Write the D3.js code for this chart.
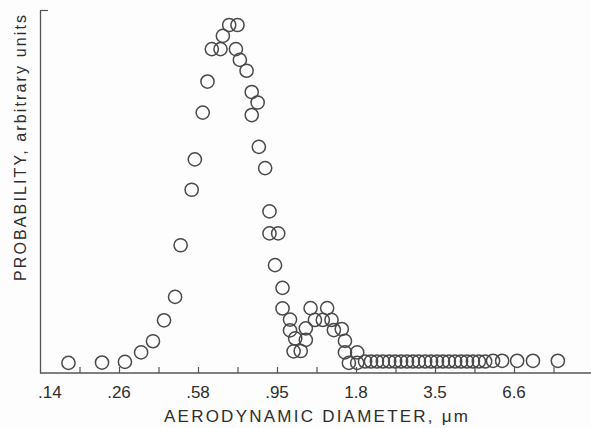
<!DOCTYPE html>
<html>
<head>
<meta charset="utf-8">
<script src="https://cdn.jsdelivr.net/npm/d3@7"></script>
<style>
  html, body { margin: 0; padding: 0; background: #fdfdfd; }
  svg { display: block; }
  text { font-family: "Liberation Sans", Arial, sans-serif; fill: #2e2e2e; }
</style>
</head>
<body>
<div id="chart"></div>
<script>
// x is the impactor channel (equal spacing on the axis), y is probability in arbitrary units
const channel = [
  0.72, 1.57, 2.15, 2.56, 2.86, 3.14, 3.42, 3.56, 3.84, 3.92,
  4.12, 4.24, 4.35, 4.57, 4.63, 4.79, 5.00, 4.96, 5.06, 5.23,
  5.36, 5.51, 5.36, 5.54, 5.70, 5.81, 5.81, 6.03, 5.95, 6.14,
  6.14, 6.33, 6.33, 6.46, 6.42, 6.60, 6.73, 6.73, 6.85, 6.96,
  7.16, 7.27, 7.38, 7.44, 7.64, 7.72, 7.72, 7.82, 8.03, 8.03,
  8.23, 8.38, 8.53, 8.68, 8.84, 8.99, 9.14, 9.29, 9.44, 9.59,
  9.75, 9.90, 10.05, 10.20, 10.35, 10.51, 10.66, 10.81, 10.96, 11.11,
  11.27, 11.47, 11.70, 12.08, 12.48, 13.11
];
const probability = [
  2.9, 3.0, 3.2, 5.9, 9.1, 15.1, 21.8, 36.6, 52.5, 61.2,
  74.6, 83.5, 92.8, 92.8, 96.6, 99.7, 99.7, 92.8, 89.7, 86.6,
  80.5, 77.5, 73.9, 64.8, 58.7, 46.3, 40.0, 40.0, 30.9, 24.4,
  18.5, 15.3, 12.2, 9.9, 6.2, 6.3, 9.5, 12.8, 18.6, 15.2,
  15.2, 18.6, 15.2, 12.3, 12.6, 9.2, 5.9, 2.9, 5.9, 2.9,
  3.3, 3.3, 3.3, 3.3, 3.3, 3.3, 3.3, 3.3, 3.3, 3.3,
  3.3, 3.3, 3.3, 3.3, 3.3, 3.3, 3.3, 3.3, 3.3, 3.3,
  3.3, 3.5, 3.5, 3.5, 3.5, 3.5
];

const tickChannels = d3.range(1, 15);
const labelChannels = [0.25, 2, 4, 6, 8, 10, 12];
const labelText = ['.14', '.26', '.58', '.95', '1.8', '3.5', '6.6'];

const width = 591, height = 428;

const x = d3.scaleLinear().domain([0, 14]).range([40, 593]);
const y = d3.scaleLinear().domain([0, 104]).range([373, 10]);

const svg = d3.select('#chart').append('svg')
  .attr('width', width)
  .attr('height', height);

// axes
const xAxis = svg.append('g')
  .attr('transform', `translate(0,${y(0)})`)
  .call(d3.axisBottom(x).tickValues(tickChannels).tickSize(-6).tickSizeOuter(0).tickFormat(''));
xAxis.select('.domain').remove();
xAxis.selectAll('.tick line').attr('stroke', '#555').attr('stroke-width', 1.2);

svg.append('line')
  .attr('x1', x(0)).attr('x2', width)
  .attr('y1', y(0)).attr('y2', y(0))
  .attr('stroke', '#555').attr('stroke-width', 1.3);

const yAxis = svg.append('g')
  .attr('transform', `translate(${x(0)},0)`)
  .call(d3.axisLeft(y).tickValues([104]).tickSize(-8).tickSizeOuter(0).tickFormat(''));
yAxis.select('.domain').attr('stroke', '#555').attr('stroke-width', 1.3);
yAxis.selectAll('.tick line').attr('stroke', '#555').attr('stroke-width', 1.2);

// tick labels
svg.append('g').selectAll('text')
  .data(labelChannels)
  .join('text')
  .attr('x', d => x(d))
  .attr('y', 398)
  .attr('text-anchor', 'middle')
  .style('font-size', '17px')
  .text((d, i) => labelText[i]);

// axis titles
svg.append('text')
  .attr('x', 316)
  .attr('y', 422)
  .attr('text-anchor', 'middle')
  .attr('textLength', 304)
  .attr('lengthAdjust', 'spacing')
  .style('font-size', '17px')
  .text('AERODYNAMIC DIAMETER, \u03bcm');

svg.append('text')
  .attr('transform', 'translate(26,148) rotate(-90)')
  .attr('text-anchor', 'middle')
  .attr('textLength', 266)
  .attr('lengthAdjust', 'spacing')
  .style('font-size', '16px')
  .text('PROBABILITY, arbitrary units');

// data points
const points = channel.map((c, i) => ({ c, p: probability[i] }));
svg.append('g').selectAll('circle')
  .data(points)
  .join('circle')
  .attr('cx', d => x(d.c))
  .attr('cy', d => y(d.p))
  .attr('r', 6.6)
  .attr('fill', 'none')
  .attr('stroke', '#4a4a4a')
  .attr('stroke-width', 1.5);
</script>
</body>
</html>
